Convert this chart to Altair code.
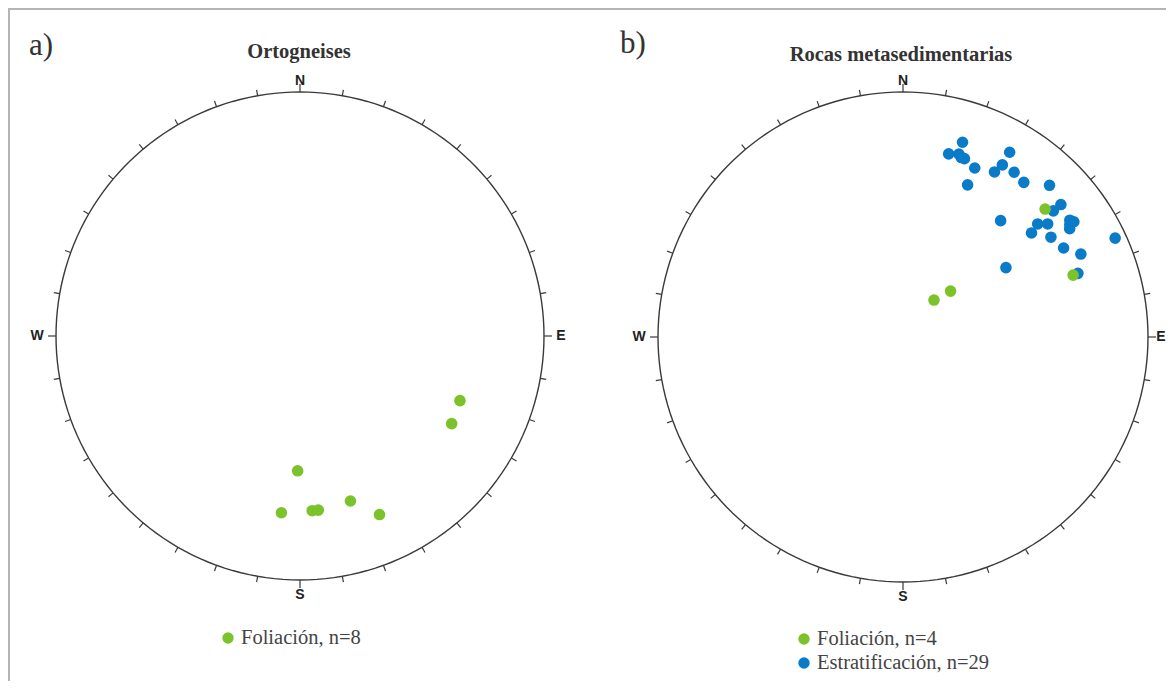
import math
import altair as alt
import pandas as pd

# ---------------- data: poles to planes (trend, plunge in degrees) ----------------
# a) Ortogneises - Foliación
orto_fol_trend = [112, 120, 181, 186, 176, 174, 163, 156]
orto_fol_plunge = [30, 29, 44, 28, 29, 29, 30, 21]

# b) Rocas metasedimentarias - Foliación
meta_fol_trend = [48, 70, 46, 40]
meta_fol_plunge = [23, 27, 68, 74]

# b) Rocas metasedimentarias - Estratificación
meta_est_trend = [17, 14, 17, 19, 18, 23, 23, 30, 30, 29, 34, 38, 44, 50, 50,
                  40, 50, 51, 52, 55, 56, 56, 57, 56, 61, 65, 65, 56, 70]
meta_est_plunge = [18, 24, 23, 24, 24, 26, 33, 14, 20, 24, 20, 21, 15, 17, 21,
                   38, 29, 33, 26, 18, 17, 19, 20, 28, 26, 21, 5, 48, 25]

panel_letters = ["a)", "b)"]
panel_titles = ["Ortogneises", "Rocas metasedimentarias"]
families = ["Foliación", "Estratificación"]
cardinals = ["N", "E", "S", "W"]

GREEN = "#7cc22a"
BLUE = "#0a7bc9"

# ---------------- layout (page pixels) ----------------
W, H = 1158, 673
PANELS = {
    "a": dict(cx=300.0, cy=336.0, r=244.0, offs={"N": 11, "E": 17, "S": 15, "W": 19}),
    "b": dict(cx=903.0, cy=337.0, r=245.0, offs={"N": 11, "E": 13, "S": 15, "W": 19}),
}


def pos(panel, az_deg, rad):
    p = PANELS[panel]
    a = math.radians(az_deg)
    return p["cx"] + rad * math.sin(a), p["cy"] - rad * math.cos(a)


def proj(panel, trend, plunge):
    # lower-hemisphere equal-area (Schmidt) projection
    rho = math.sqrt(2) * math.sin(math.radians(90 - plunge) / 2)
    return pos(panel, trend, PANELS[panel]["r"] * rho)


# points
pts = []
for panel, fam, trends, plunges in [
    ("a", families[0], orto_fol_trend, orto_fol_plunge),
    ("b", families[1], meta_est_trend, meta_est_plunge),
    ("b", families[0], meta_fol_trend, meta_fol_plunge),
]:
    for t, p in zip(trends, plunges):
        x, y = proj(panel, t, p)
        pts.append(dict(panel=panel, familia=fam, trend=t, plunge=p, x=x, y=y))
pts = pd.DataFrame(pts)

# primitive circles
circ = []
for panel in PANELS:
    for i, a in enumerate(range(0, 361, 2)):
        x, y = pos(panel, a, PANELS[panel]["r"])
        circ.append(dict(panel=panel, i=i, x=x, y=y))
circ = pd.DataFrame(circ)

# ticks every 10 degrees
ticks = []
for panel in PANELS:
    r = PANELS[panel]["r"]
    for a in range(0, 360, 10):
        L = 8 if a % 90 == 0 else 6
        x, y = pos(panel, a, r)
        x2, y2 = pos(panel, a, r + L)
        ticks.append(dict(panel=panel, x=x, y=y, x2=x2, y2=y2))
ticks = pd.DataFrame(ticks)

# cardinal labels
card = []
for panel in PANELS:
    r = PANELS[panel]["r"]
    for k, lab in enumerate(cardinals):
        x, y = pos(panel, k * 90, r + PANELS[panel]["offs"][lab])
        card.append(dict(panel=panel, label=lab, x=x, y=y))
card = pd.DataFrame(card)

# titles and panel letters
titles = pd.DataFrame([
    dict(text=panel_titles[0], x=PANELS["a"]["cx"] - 1, y=52),
    dict(text=panel_titles[1], x=PANELS["b"]["cx"] - 2, y=55),
])
letters = pd.DataFrame([
    dict(text=panel_letters[0], x=41, y=46),
    dict(text=panel_letters[1], x=633, y=44),
])

# legends (manual, one per panel)
leg = pd.DataFrame([
    dict(familia=families[0], label=f"{families[0]}, n={len(orto_fol_trend)}", x=228, y=638),
    dict(familia=families[0], label=f"{families[0]}, n={len(meta_fol_trend)}", x=804, y=639),
    dict(familia=families[1], label=f"{families[1]}, n={len(meta_est_trend)}", x=804, y=663),
])
leg["tx"] = leg["x"] + 13

# frame (top and left border of the figure)
frame = pd.DataFrame([
    dict(x=8, y=9, x2=8 + W, y2=9),
    dict(x=9, y=8, x2=9, y2=8 + H),
])

# ---------------- encodings ----------------
XS = alt.Scale(domain=[8, 8 + W], nice=False, zero=False)
YS = alt.Scale(domain=[8, 8 + H], reverse=True, nice=False, zero=False)


def X(f="x"):
    return alt.X(f"{f}:Q", scale=XS, axis=None)


def Y(f="y"):
    return alt.Y(f"{f}:Q", scale=YS, axis=None)


color = alt.Color("familia:N",
                  scale=alt.Scale(domain=families, range=[GREEN, BLUE]),
                  legend=None)

frame_l = alt.Chart(frame).mark_rule(color="#b4b4b4", strokeWidth=2).encode(
    x=X(), y=Y(), x2="x2:Q", y2="y2:Q")

circle_l = alt.Chart(circ).mark_line(color="#3a3a3a", strokeWidth=1.4).encode(
    x=X(), y=Y(), detail="panel:N", order="i:Q")

ticks_l = alt.Chart(ticks).mark_rule(color="#3a3a3a", strokeWidth=1.2).encode(
    x=X(), y=Y(), x2="x2:Q", y2="y2:Q")

card_l = alt.Chart(card).mark_text(
    font="Liberation Sans", fontWeight="bold", fontSize=14, color="#222",
    align="center", baseline="middle").encode(x=X(), y=Y(), text="label:N")

pts_l = alt.Chart(pts).mark_circle(size=135, opacity=1).encode(
    x=X(), y=Y(), color=color,
    tooltip=["familia:N", "trend:Q", "plunge:Q"])

titles_l = alt.Chart(titles).mark_text(
    font="Liberation Serif", fontWeight="bold", fontSize=20.5, color="#333",
    align="center", baseline="middle").encode(x=X(), y=Y(), text="text:N")

letters_l = alt.Chart(letters).mark_text(
    font="Liberation Serif", fontSize=31, color="#333",
    align="center", baseline="middle").encode(x=X(), y=Y(), text="text:N")

leg_pts = alt.Chart(leg).mark_circle(size=130, opacity=1).encode(
    x=X(), y=Y(), color=color)

leg_txt = alt.Chart(leg).mark_text(
    font="Liberation Serif", fontSize=20.5, color="#444",
    align="left", baseline="middle").encode(x=X("tx"), y=Y(), text="label:N")

chart = alt.layer(
    frame_l, circle_l, ticks_l, card_l, pts_l, titles_l, letters_l, leg_pts, leg_txt
).properties(
    width=W, height=H,
    autosize=alt.AutoSizeParams(type="none"),
    padding=0,
).configure_view(stroke=None)

chart.save("out.html", embed_options={"renderer": "svg", "actions": False})
